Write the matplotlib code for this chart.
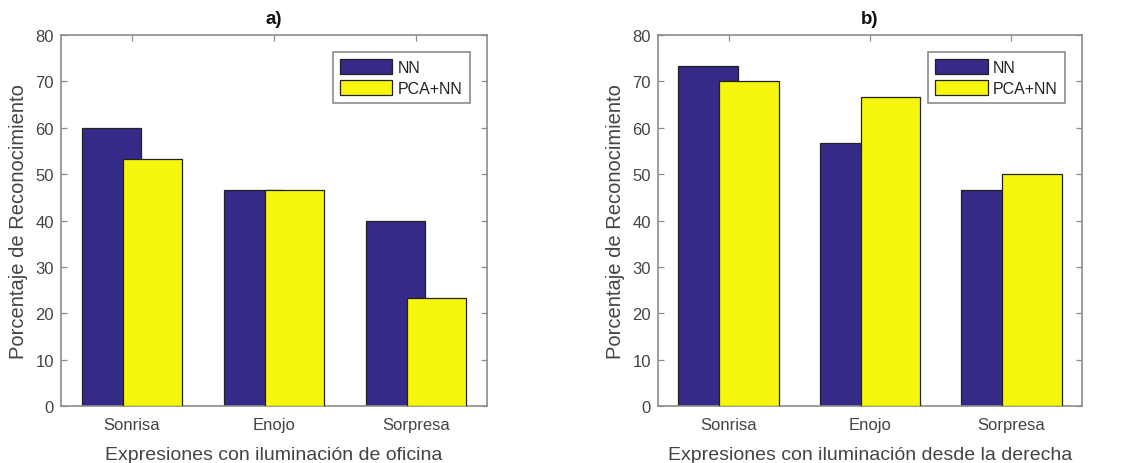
import numpy as np
import matplotlib
matplotlib.use("Agg")
import matplotlib.pyplot as plt

categories = ["Sonrisa", "Enojo", "Sorpresa"]
series_names = ["NN", "PCA+NN"]

nn_a = [60.0, 46.67, 40.0]
pca_a = [53.33, 46.67, 23.33]
nn_b = [73.33, 56.67, 46.67]
pca_b = [70.0, 66.67, 50.0]

titles = ["a)", "b)"]
xlabels = ["Expresiones con iluminación de oficina",
           "Expresiones con iluminación desde la derecha"]
ylabel = "Porcentaje de Reconocimiento"

plt.rcParams['font.family'] = ['Liberation Sans', 'DejaVu Sans']
grey = '#444444'
spine = '#8c8c8c'
colors = ['#352A87', '#F7F70D']

fig = plt.figure(figsize=(11.22, 4.64), dpi=100)
axes = [fig.add_axes([61/1122, 57/464, 426/1122, 371/464]),
        fig.add_axes([658/1122, 57/464, 424/1122, 371/464])]

x = np.arange(1, len(categories) + 1)
w = 0.42
off = 0.145
for ax, nn, pca, t, xl in zip(axes, [nn_a, nn_b], [pca_a, pca_b], titles, xlabels):
    ax.bar(x - off, nn, w, color=colors[0], edgecolor='#222222', lw=0.9, label=series_names[0], zorder=2)
    ax.bar(x + off, pca, w, color=colors[1], edgecolor='#222222', lw=0.9, label=series_names[1], zorder=3)
    ax.set_xlim(0.5, 3.5)
    ax.set_ylim(0, 80)
    ax.set_xticks(x)
    ax.set_xticklabels(categories)
    ax.set_yticks(np.arange(0, 81, 10))
    ax.tick_params(direction='in', top=True, right=True, color=spine, labelcolor=grey,
                   labelsize=12, length=4, width=0.9)
    ax.tick_params(axis='x', pad=8)
    ax.tick_params(axis='y', pad=5)
    for s in ax.spines.values():
        s.set_color(spine)
        s.set_linewidth(1.2)
    ax.set_title(t, fontsize=13.5, fontweight='bold', pad=9, color='#111111')
    ax.set_xlabel(xl, fontsize=14, color=grey, labelpad=10)
    ax.set_ylabel(ylabel, fontsize=14.5, color=grey, labelpad=5)
    leg = ax.legend(loc='upper right', bbox_to_anchor=(0.96, 0.954), fancybox=False,
                    framealpha=1, edgecolor=spine, fontsize=11.5, handlelength=3.3,
                    handleheight=1.0, handletextpad=0.35, borderpad=0.45, labelspacing=0.35,
                    borderaxespad=0)
    leg.get_frame().set_linewidth(1.2)
    for txt in leg.get_texts():
        txt.set_color('#222222')

fig.savefig("out.png", dpi=100)
